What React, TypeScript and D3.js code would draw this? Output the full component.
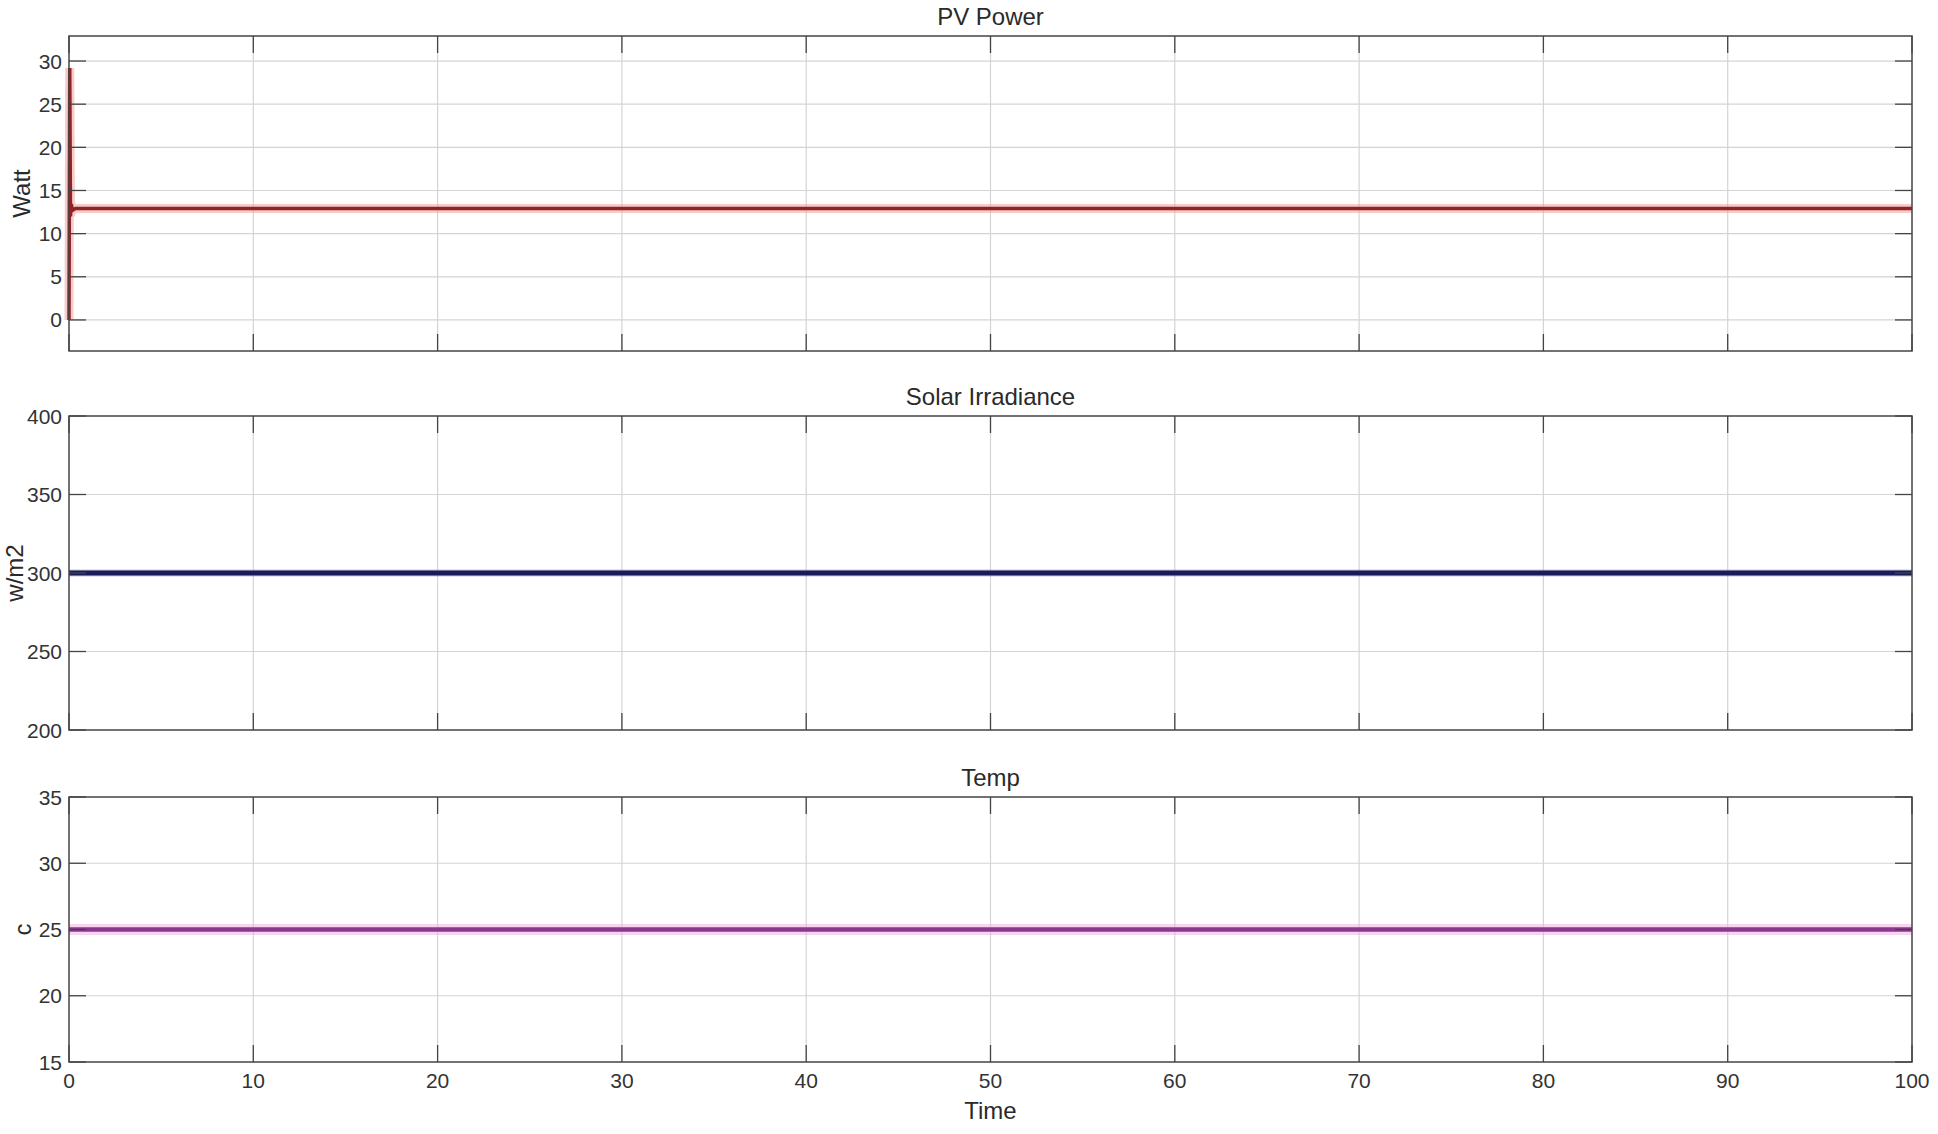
import React from 'react'
import { scaleLinear, line, curveLinear } from 'd3'

// time axis
const xTicks = [0, 10, 20, 30, 40, 50, 60, 70, 80, 90, 100]

// PV power: start-up spike then steady state
const pvTime = [0, 0.04, 0.08, 0.12, 0.2, 0.35, 100]
const pvWatt = [0, 29.2, 12.0, 13.4, 12.7, 12.9, 12.9]

// irradiance and temperature are constant
const irrTime = [0, 100]
const irrValue = [300, 300]
const tempTime = [0, 100]
const tempValue = [25, 25]

const W = 1938
const H = 1134
const left = 69
const right = 1912

const panels = [
  { title: 'PV Power', ylabel: 'Watt', top: 36, bottom: 351, domain: [-3.6, 32.9], ticks: [0, 5, 10, 15, 20, 25, 30],
    t: pvTime, v: pvWatt, color: '#8e2424', glow: '#f3a0a0', width: 3.5, glowWidth: 9, labelX: 21 },
  { title: 'Solar Irradiance', ylabel: 'w/m2', top: 416, bottom: 730, domain: [200, 400], ticks: [200, 250, 300, 350, 400],
    t: irrTime, v: irrValue, color: '#1b1b5c', glow: '#9a9ad0', width: 5, glowWidth: 7, labelX: 14 },
  { title: 'Temp', ylabel: 'c', top: 797, bottom: 1062, domain: [15, 35], ticks: [15, 20, 25, 30, 35],
    t: tempTime, v: tempValue, color: '#8a3a8e', glow: '#f4b0e4', width: 4.5, glowWidth: 11, labelX: 22 },
]

const font = '"Liberation Sans", Arial, sans-serif'
const tickFont = 21
const labelFont = 24

const Panel = ({ p, last }: { p: any; last: boolean }) => {
  const x = scaleLinear().domain([0, 100]).range([left, right])
  const y = scaleLinear().domain(p.domain).range([p.bottom, p.top])
  const path = line<number>().x((_, i) => x(p.t[i])).y(d => y(d)).curve(curveLinear)(p.v) || ''
  const tk = 17
  return (
    <g>
      {/* grid */}
      {xTicks.slice(1, -1).map(t => (
        <line key={'gx' + t} x1={x(t)} x2={x(t)} y1={p.top} y2={p.bottom} stroke='#d4d4d4' strokeWidth={1.2} />
      ))}
      {p.ticks.filter((t: number) => y(t) > p.top + 1 && y(t) < p.bottom - 1).map((t: number) => (
        <line key={'gy' + t} x1={left} x2={right} y1={y(t)} y2={y(t)} stroke='#d4d4d4' strokeWidth={1.2} />
      ))}
      {/* data */}
      <path d={path} fill='none' stroke={p.glow} strokeWidth={p.glowWidth} strokeOpacity={0.55} />
      <path d={path} fill='none' stroke={p.color} strokeWidth={p.width} />
      {/* ticks */}
      {xTicks.map(t => (
        <g key={'tx' + t}>
          <line x1={x(t)} x2={x(t)} y1={p.bottom} y2={p.bottom - tk} stroke='#444' strokeWidth={1.3} />
          <line x1={x(t)} x2={x(t)} y1={p.top} y2={p.top + tk} stroke='#444' strokeWidth={1.3} />
        </g>
      ))}
      {p.ticks.map((t: number) => (
        <g key={'ty' + t}>
          <line x1={left} x2={left + tk} y1={y(t)} y2={y(t)} stroke='#444' strokeWidth={1.3} />
          <line x1={right} x2={right - tk} y1={y(t)} y2={y(t)} stroke='#444' strokeWidth={1.3} />
          <text x={left - 7} y={y(t)} dy='0.36em' textAnchor='end' fontSize={tickFont} fill='#333'>{t}</text>
        </g>
      ))}
      {/* box */}
      <rect x={left} y={p.top} width={right - left} height={p.bottom - p.top} fill='none' stroke='#444' strokeWidth={1.5} />
      <text x={(left + right) / 2} y={p.top - 20} dy='0.36em' textAnchor='middle' fontSize={labelFont} fill='#2a2a2a'>{p.title}</text>
      <text transform={`translate(${p.labelX},${(p.top + p.bottom) / 2}) rotate(-90)`} dy='0.36em' textAnchor='middle' fontSize={labelFont} fill='#2a2a2a'>{p.ylabel}</text>
      {last && xTicks.map(t => (
        <text key={'lx' + t} x={x(t)} y={p.bottom + 18} dy='0.36em' textAnchor='middle' fontSize={tickFont} fill='#333'>{t}</text>
      ))}
      {last && (
        <text x={(left + right) / 2} y={p.bottom + 48} dy='0.36em' textAnchor='middle' fontSize={labelFont} fill='#2a2a2a'>Time</text>
      )}
    </g>
  )
}

const App = () => (
  <svg width={W} height={H} style={{ position: 'absolute', left: 0, top: 0, background: '#fff' }} fontFamily={font}>
    <rect width={W} height={H} fill='#fff' />
    {panels.map((p, i) => <Panel key={p.title} p={p} last={i === panels.length - 1} />)}
  </svg>
)

export default App
